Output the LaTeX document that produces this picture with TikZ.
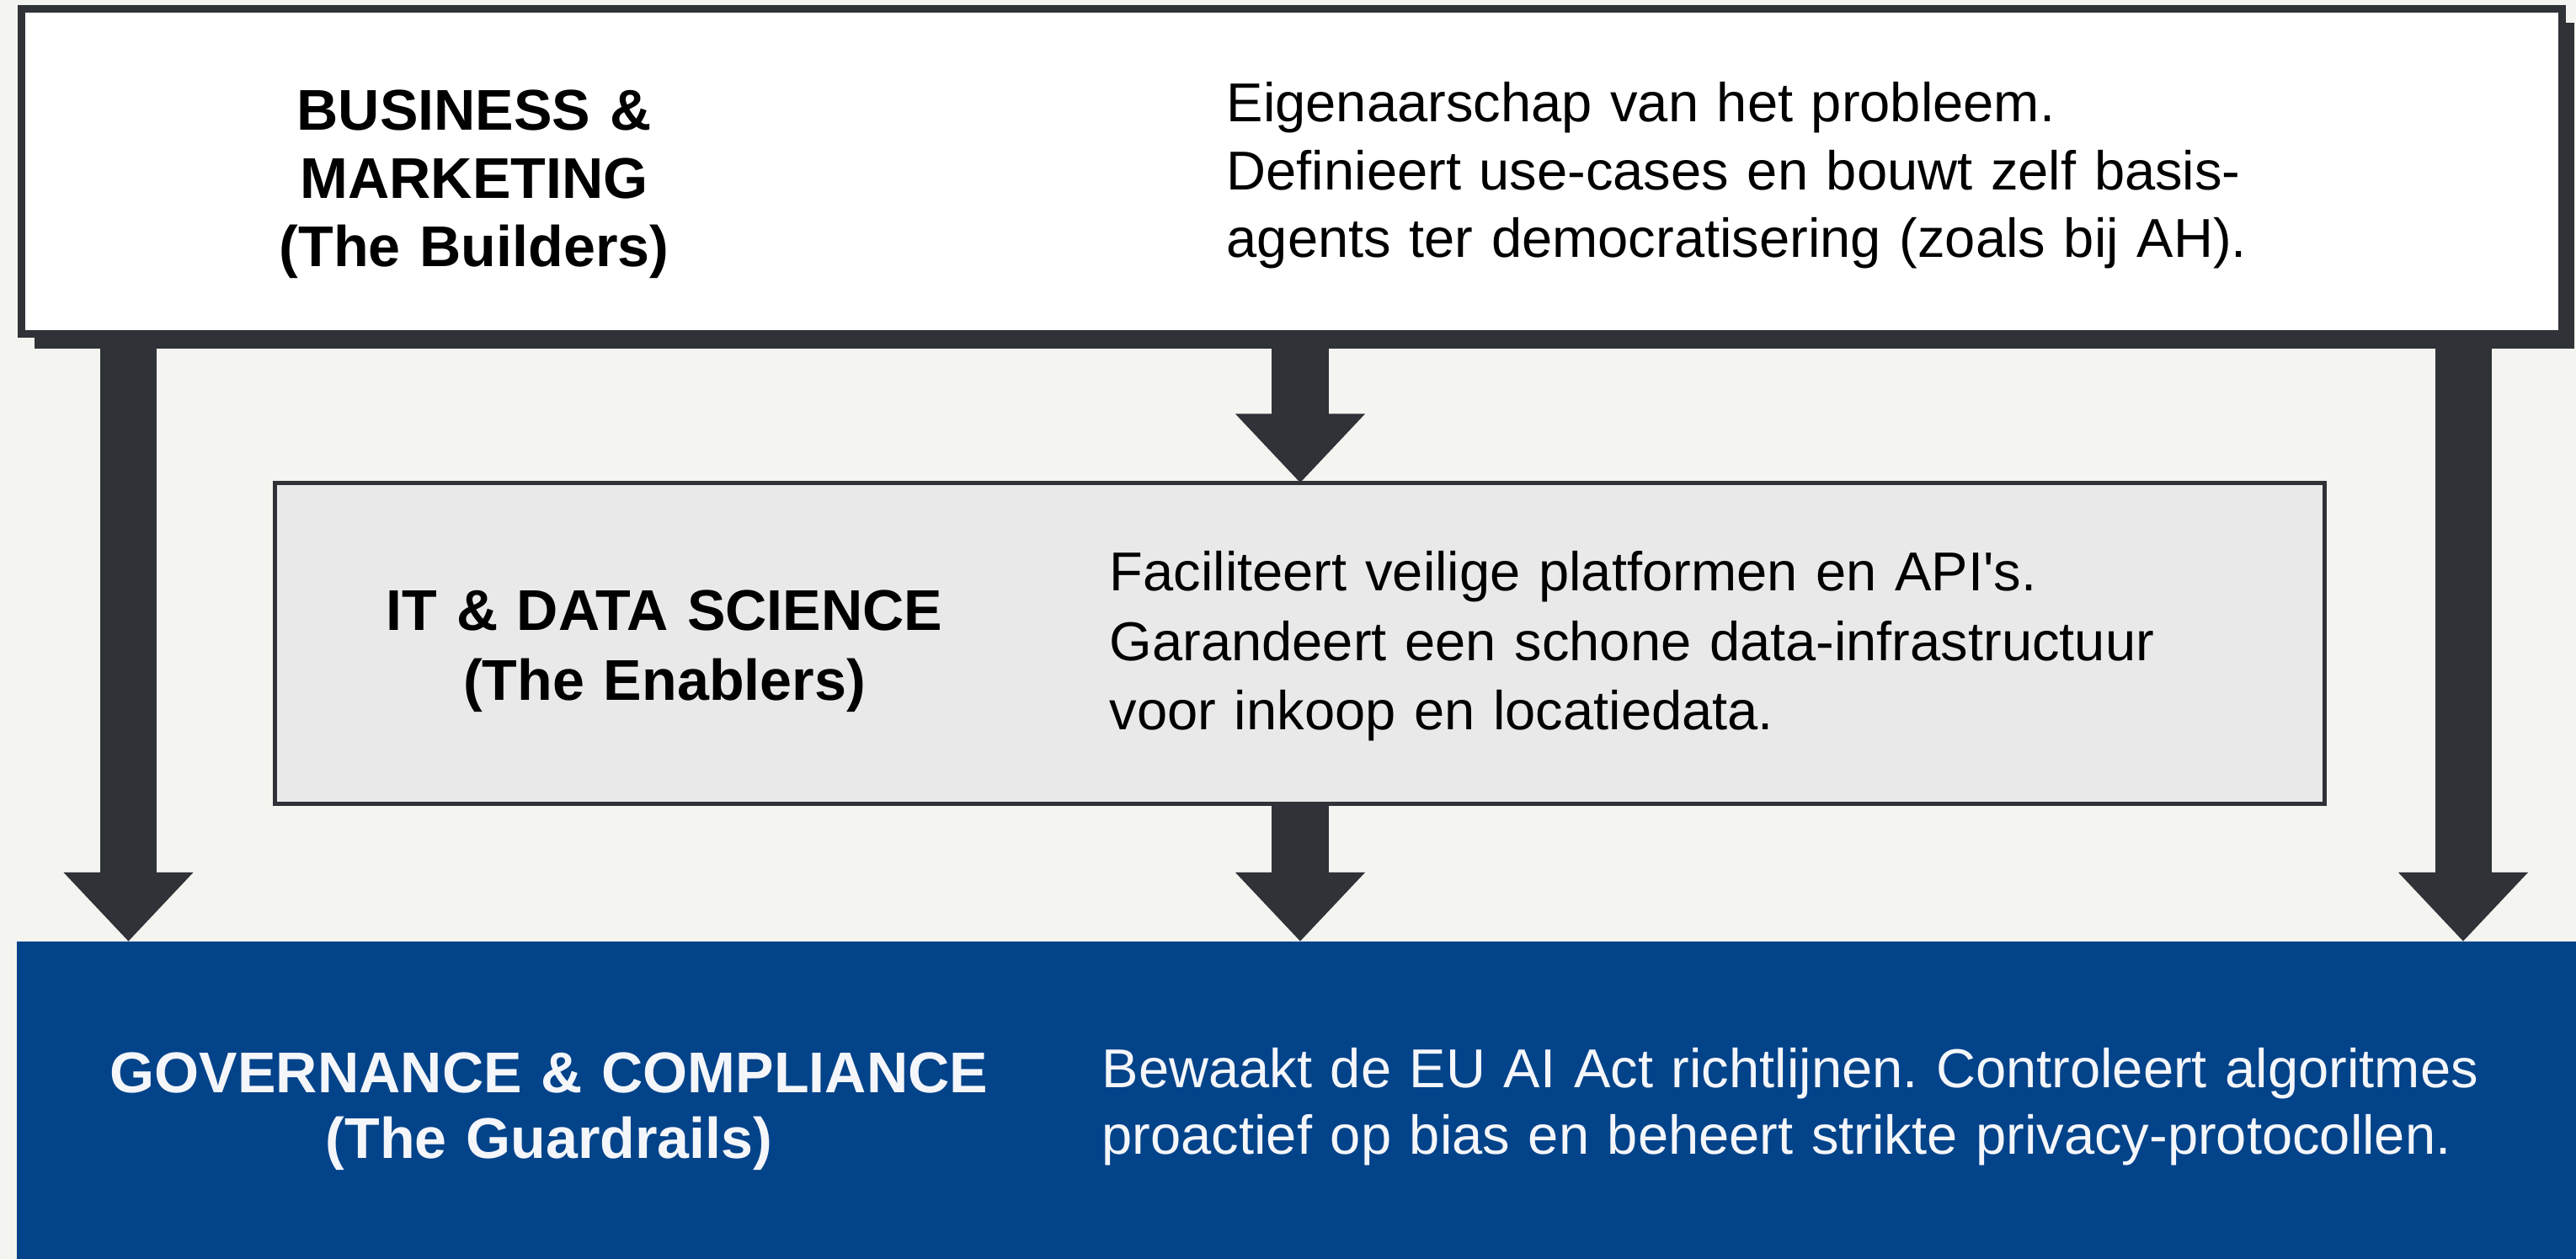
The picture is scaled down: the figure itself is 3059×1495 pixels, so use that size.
\documentclass[tikz,border=0pt]{standalone}
\usepackage{fontspec}
\setmainfont{Liberation Sans}
\usetikzlibrary{arrows.meta,shadows}
\definecolor{bgc}{HTML}{F4F4F0}
\definecolor{darkc}{HTML}{2F3237}
\definecolor{midc}{HTML}{E9E9E9}
\definecolor{bluec}{HTML}{03438A}
\definecolor{textw}{HTML}{F4F6FA}
\frenchspacing
\tikzset{
  hdr/.style={inner sep=0pt, anchor=base, text width=12cm, align=center,
    font={\fontsize{19.4pt}{23pt}\bfseries\selectfont}},
  bodytxt/.style={inner sep=0pt, anchor=base west, text width=17cm, align=left,
    font={\fontsize{18.5pt}{22.8pt}\selectfont}},
  fatarrow/.style={draw=darkc, line width=0.67cm,
    -{Triangle[width=1.49cm,length=0.82cm]}},
}
\begin{document}
\begin{tikzpicture}[x=0.01cm,y=-0.01cm]
\useasboundingbox (0,0) rectangle (3059,1495);
\fill[bgc] (0,0) rectangle (3059,1495);
% boxes
\node[draw=darkc, fill=white, line width=0.09cm, outer sep=0pt, inner sep=0pt,
  minimum width=30.15cm, minimum height=3.86cm,
  general shadow={fill=darkc, shadow xshift=0.15cm, shadow yshift=-0.17cm}]
  (biz) at (1534,203.5) {};
\node[draw=darkc, fill=midc, line width=0.05cm, outer sep=0pt, inner sep=0pt,
  minimum width=24.32cm, minimum height=3.81cm] (itds) at (1543.5,764) {};
\node[fill=bluec, outer sep=0pt, inner sep=0pt,
  minimum width=30.38cm, minimum height=3.77cm] (gov) at (1540,1306.5) {};
% arrows
\draw[fatarrow] (biz.south -| 152.5,0) -- (gov.north -| 152.5,0);
\draw[fatarrow] (biz.south -| 1544,0) -- (itds.north -| 1544,0);
\draw[fatarrow] (itds.south -| 1544,0) -- (gov.north -| 1544,0);
\draw[fatarrow] (biz.south -| 2925,0) -- (gov.north -| 2925,0);
% texts
\node[hdr] (bizh) at (563,155) {BUSINESS \&\\MARKETING\\(The Builders)};
\node[bodytxt] (bizt) at (1456,145) {Eigenaarschap van het probleem.\\Definieert use-cases en bouwt zelf basis-\\agents ter democratisering (zoals bij AH).};
\node[hdr, font={\fontsize{19.4pt}{23.4pt}\bfseries\selectfont}] (itdsh) at (789,749) {IT \& DATA SCIENCE\\(The Enablers)};
\node[bodytxt, font={\fontsize{18.5pt}{23.4pt}\selectfont}] (itdst) at (1317,702) {Faciliteert veilige platformen en API\textquotesingle s.\\Garandeert een schone data-infrastructuur\\voor inkoop en locatiedata.};
\node[hdr, text=textw, font={\fontsize{19.4pt}{22pt}\bfseries\selectfont}] (govh) at (652,1298) {GOVERNANCE \& COMPLIANCE\\(The Guardrails)};
\node[bodytxt, text=textw, font={\fontsize{18.5pt}{22.2pt}\selectfont}] (govt) at (1308,1292) {Bewaakt de EU AI Act richtlijnen. Controleert algoritmes\\proactief op bias en beheert strikte privacy-protocollen.};
\end{tikzpicture}
\end{document}
